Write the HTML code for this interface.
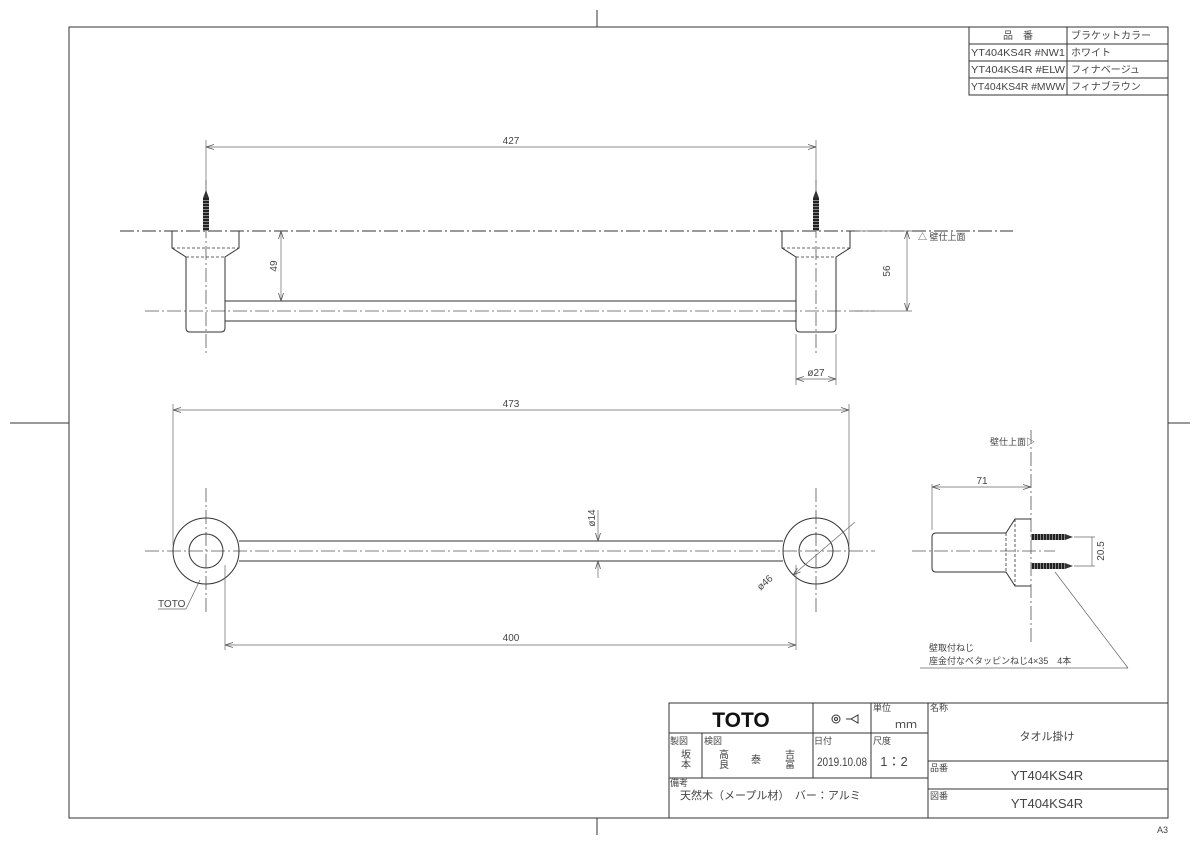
<!DOCTYPE html>
<html><head><meta charset="utf-8"><style>
html,body{margin:0;padding:0;background:#fff}
svg{display:block}
text{font-family:"Liberation Sans","Noto Sans CJK JP",sans-serif;fill:#444}
</style></head><body>
<svg width="1200" height="848" viewBox="0 0 1200 848" xmlns="http://www.w3.org/2000/svg">
<defs>
<marker id="a" markerWidth="8" markerHeight="6" refX="8" refY="3" orient="auto-start-reverse" markerUnits="userSpaceOnUse"><path d="M0,0.5 L8,3 L0,5.5" fill="none" stroke="#555" stroke-width="0.8"/></marker>
<pattern id="thr" width="4" height="3" patternUnits="userSpaceOnUse"><rect width="4" height="3" fill="#222"/><rect y="2" width="4" height="1" fill="#888"/></pattern>
<pattern id="thv" width="3" height="4" patternUnits="userSpaceOnUse"><rect width="3" height="4" fill="#222"/><rect x="2" width="1" height="4" fill="#888"/></pattern>
</defs>
<g stroke="#333" stroke-width="1" fill="none">
<rect x="69" y="27" width="1099" height="791"/>
<line x1="597" y1="10" x2="597" y2="27"/><line x1="597" y1="818" x2="597" y2="835"/>
<line x1="10" y1="423" x2="69" y2="423"/><line x1="1168" y1="423" x2="1190" y2="423"/>
<rect x="969" y="27" width="199" height="68"/>
<line x1="969" y1="44" x2="1168" y2="44"/><line x1="969" y1="61" x2="1168" y2="61"/><line x1="969" y1="78" x2="1168" y2="78"/>
<line x1="1067" y1="27" x2="1067" y2="95"/>
</g>
<g font-size="10">
<text x="1018" y="39" text-anchor="middle">品　番</text>
<text x="1071" y="39">ブラケットカラー</text>
<text x="971" y="56" textLength="94" lengthAdjust="spacingAndGlyphs">YT404KS4R #NW1</text><text x="1071" y="56">ホワイト</text>
<text x="971" y="73" textLength="94" lengthAdjust="spacingAndGlyphs">YT404KS4R #ELW</text><text x="1071" y="73">フィナベージュ</text>
<text x="971" y="90" textLength="94" lengthAdjust="spacingAndGlyphs">YT404KS4R #MWW</text><text x="1071" y="90">フィナブラウン</text>
</g>
<g stroke="#555" stroke-width="0.8" fill="none" stroke-dasharray="14,3,2,3">
<line x1="120" y1="231" x2="1013" y2="231" stroke="#333" stroke-width="1"/>
<line x1="145" y1="311" x2="875" y2="311"/>
<line x1="206" y1="180" x2="206" y2="356"/>
<line x1="816" y1="180" x2="816" y2="356"/>
</g>
<rect x="203" y="198" width="6" height="33" fill="url(#thr)"/>
<path d="M203,198 L206,190 L209,198Z" fill="#333"/>
<rect x="813" y="198" width="6" height="33" fill="url(#thr)"/>
<path d="M813,198 L816,190 L819,198Z" fill="#333"/>
<g stroke="#333" stroke-width="1" fill="none">
<path d="M172,231 V248 L186,257 V328 Q186,332 190,332 H221 Q225,332 225,328 V257 L239,248 V231"/>
<path d="M782,231 V248 L796,257 V328 Q796,332 800,332 H832 Q836,332 836,328 V257 L850,248 V231"/>
<line x1="225" y1="301" x2="796" y2="301"/><line x1="225" y1="321" x2="796" y2="321"/>
</g>
<g stroke="#333" stroke-width="0.8" stroke-dasharray="3,2">
<line x1="172" y1="248" x2="239" y2="248"/><line x1="186" y1="257" x2="225" y2="257"/>
<line x1="782" y1="248" x2="850" y2="248"/><line x1="796" y1="257" x2="836" y2="257"/>
</g>
<g stroke="#666" stroke-width="0.7" fill="none">
<line x1="206" y1="140" x2="206" y2="185"/><line x1="816" y1="140" x2="816" y2="185"/>
<line x1="206" y1="147" x2="816" y2="147" marker-start="url(#a)" marker-end="url(#a)"/>
<line x1="281" y1="231" x2="281" y2="301" marker-start="url(#a)" marker-end="url(#a)"/>
<line x1="855" y1="311" x2="912" y2="311"/><line x1="855" y1="231" x2="912" y2="231"/>
<line x1="907" y1="231" x2="907" y2="311" marker-start="url(#a)" marker-end="url(#a)"/>
<line x1="796" y1="334" x2="796" y2="385"/><line x1="836" y1="334" x2="836" y2="385"/>
<line x1="796" y1="379" x2="836" y2="379" marker-start="url(#a)" marker-end="url(#a)"/>
</g>
<g font-size="10">
<text x="511" y="144" text-anchor="middle">427</text>
<text transform="translate(277,266) rotate(-90)" text-anchor="middle">49</text>
<text transform="translate(890,271) rotate(-90)" text-anchor="middle">56</text>
<text x="816" y="376" text-anchor="middle">ø27</text>
<text x="918" y="240" font-size="9">△ 壁仕上面</text>
</g>
<g stroke="#555" stroke-width="0.8" fill="none" stroke-dasharray="14,3,2,3">
<line x1="145" y1="551" x2="875" y2="551"/>
<line x1="206" y1="488" x2="206" y2="614"/>
<line x1="816" y1="488" x2="816" y2="614"/>
<line x1="1031" y1="430" x2="1031" y2="645"/>
<line x1="912" y1="551" x2="1055" y2="551"/>
</g>
<g stroke="#333" stroke-width="1" fill="none">
<circle cx="206" cy="551" r="33"/><circle cx="206" cy="551" r="17"/>
<circle cx="816" cy="551" r="33"/><circle cx="816" cy="551" r="17"/>
<line x1="239" y1="541" x2="783" y2="541"/><line x1="239" y1="561" x2="783" y2="561"/>
</g>
<g stroke="#666" stroke-width="0.7" fill="none">
<line x1="173" y1="404" x2="173" y2="545"/><line x1="849" y1="404" x2="849" y2="545"/>
<line x1="173" y1="410" x2="849" y2="410" marker-start="url(#a)" marker-end="url(#a)"/>
<line x1="225" y1="565" x2="225" y2="650"/><line x1="796" y1="565" x2="796" y2="650"/>
<line x1="225" y1="645" x2="796" y2="645" marker-start="url(#a)" marker-end="url(#a)"/>
<line x1="598" y1="510" x2="598" y2="541" marker-end="url(#a)"/>
<line x1="598" y1="578" x2="598" y2="561" marker-end="url(#a)"/>
<line x1="855" y1="522" x2="793" y2="575" marker-end="url(#a)"/>
<line x1="158" y1="609" x2="186" y2="609"/><line x1="186" y1="609" x2="200" y2="580"/>
</g>
<g font-size="10">
<text x="511" y="407" text-anchor="middle">473</text>
<text x="511" y="641" text-anchor="middle">400</text>
<text transform="translate(595,518) rotate(-90)" text-anchor="middle">ø14</text>
<text transform="translate(767,585) rotate(-42)" text-anchor="middle">ø46</text>
<text x="158" y="607">TOTO</text>
</g>
<g stroke="#333" stroke-width="1" fill="none">
<path d="M1031,519 H1015 L1006,533 H936 Q932,533 932,537 V568 Q932,572 936,572 H1006 L1015,586 H1031"/>
</g>
<g stroke="#333" stroke-width="0.8" stroke-dasharray="3,2">
<line x1="1015" y1="519" x2="1015" y2="586"/><line x1="1006" y1="533" x2="1006" y2="572"/>
</g>
<rect x="1031" y="534" width="34" height="6" fill="url(#thv)"/>
<path d="M1065,534 L1073,537 L1065,540Z" fill="#333"/>
<rect x="1031" y="563" width="34" height="6" fill="url(#thv)"/>
<path d="M1065,563 L1073,566 L1065,569Z" fill="#333"/>
<g stroke="#666" stroke-width="0.7" fill="none">
<line x1="932" y1="484" x2="932" y2="530"/>
<line x1="932" y1="487" x2="1031" y2="487" marker-start="url(#a)" marker-end="url(#a)"/>
<line x1="1074" y1="537" x2="1095" y2="537"/><line x1="1074" y1="566" x2="1095" y2="566"/>
<line x1="1092" y1="537" x2="1092" y2="566"/>
<line x1="1055" y1="572" x2="1128" y2="668"/>
<line x1="920" y1="668" x2="1128" y2="668"/>
</g>
<g font-size="9">
<text x="982" y="484" text-anchor="middle" font-size="10">71</text>
<text transform="translate(1104,551) rotate(-90)" text-anchor="middle" font-size="10">20.5</text>
<text x="990" y="445">壁仕上面▷</text>
<text x="929" y="651">壁取付ねじ</text>
<text x="929" y="664">座金付なベタッピンねじ4×35　4本</text>
</g>
<g stroke="#333" stroke-width="1" fill="none">
<rect x="669" y="703" width="499" height="115"/>
<line x1="669" y1="733" x2="928" y2="733"/>
<line x1="669" y1="778" x2="928" y2="778"/>
<line x1="702" y1="733" x2="702" y2="778"/>
<line x1="813" y1="703" x2="813" y2="778"/>
<line x1="871" y1="703" x2="871" y2="778"/>
<line x1="928" y1="703" x2="928" y2="818"/>
<line x1="928" y1="761" x2="1168" y2="761"/>
<line x1="928" y1="789" x2="1168" y2="789"/>
<circle cx="836" cy="719" r="4"/><circle cx="836" cy="719" r="1.5"/>
<path d="M846,719 H851 L858,715 V723 L851,719" />
</g>
<g font-size="9" fill="#222">
<text x="741" y="727" font-family="Liberation Serif,serif" font-weight="bold" font-size="21" text-anchor="middle" style="fill:#111">TOTO</text>
<text x="873" y="711">単位</text><text x="930" y="711">名称</text>
<text x="670" y="744">製図</text><text x="704" y="744">検図</text>
<text x="814" y="744">日付</text><text x="873" y="744">尺度</text>
<text x="670" y="786">備考</text>
<text x="930" y="771">品番</text><text x="930" y="799">図番</text>
</g>
<g fill="#555">
<text x="906" y="728" font-size="11" text-anchor="middle">ｍｍ</text>
<text x="1047" y="740" font-size="11" text-anchor="middle">タオル掛け</text>
<text x="686" y="758" font-size="10" text-anchor="middle">坂</text><text x="686" y="768" font-size="10" text-anchor="middle">本</text>
<text x="724" y="758" font-size="10" text-anchor="middle">高</text><text x="724" y="768" font-size="10" text-anchor="middle">良</text>
<text x="756" y="763" font-size="10" text-anchor="middle">泰</text>
<text x="790" y="758" font-size="10" text-anchor="middle">吉</text><text x="790" y="768" font-size="10" text-anchor="middle">富</text>
<text x="842" y="766" font-size="12" text-anchor="middle" textLength="50" lengthAdjust="spacingAndGlyphs">2019.10.08</text>
<text x="894" y="766" font-size="13" text-anchor="middle">1：2</text>
<text x="680" y="799" font-size="11">天然木（メープル材）　バー：アルミ</text>
<text x="1047" y="780" font-size="13" text-anchor="middle">YT404KS4R</text>
<text x="1047" y="808" font-size="13" text-anchor="middle">YT404KS4R</text>
<text x="1157" y="833" font-size="9">A3</text>
</g>
</svg>
</body></html>
